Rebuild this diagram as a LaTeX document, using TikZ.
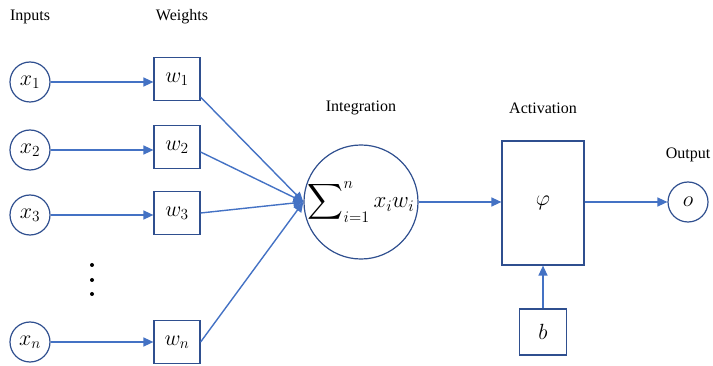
\documentclass[tikz,border=0pt]{standalone}
\usepackage{fix-cm}
\usepackage{amsmath}
\usepackage{fontspec}
\setmainfont{Liberation Serif}
\usetikzlibrary{arrows.meta}
\begin{document}
\begin{tikzpicture}[x=1pt,y=-1pt,
  lbl/.style={font=\fontsize{16}{18}\selectfont},
  inp/.style={draw=edgeblue,line width=1.2pt,circle,minimum size=40pt,inner sep=0pt,font=\fontsize{22}{24}\selectfont},
  wbox/.style={draw=edgeblue,line width=1.2pt,rectangle,minimum width=46pt,minimum height=43pt,inner sep=0pt,font=\fontsize{22}{24}\selectfont},
  conn/.style={draw=lineblue,line width=1.4pt,-{Triangle[length=10pt,width=9pt]}}]
\definecolor{edgeblue}{HTML}{2F4F8F}
\definecolor{lineblue}{HTML}{4472C4}
\useasboundingbox (0,0) rectangle (713,366);
% labels
\node[lbl] (lin) at (30,17) {Inputs};
\node[lbl] (lw) at (182,17) {Weights};
\node[lbl] (lint) at (361,108) {Integration};
\node[lbl] (lact) at (543,108) {Activation};
\node[lbl] (lout) at (688,155) {Output};
% inputs
\node[inp] (x1) at (30,82) {$x_1$};
\node[inp] (x2) at (30,150) {$x_2$};
\node[inp] (x3) at (30,215) {$x_3$};
\node[inp] (xn) at (30,342) {$x_n$};
% weights
\node[wbox] (w1) at (177,79) {$w_1$};
\node[wbox] (w2) at (177,147) {$w_2$};
\node[wbox] (w3) at (177,213) {$w_3$};
\node[wbox] (wn) at (177,342) {$w_n$};
% dots
\fill (92,265) circle (2pt);
\fill (92,280) circle (2pt);
\fill (92,294) circle (2pt);
% integration
\node[draw=edgeblue,line width=1.2pt,circle,minimum size=113pt,inner sep=0pt,font=\fontsize{23}{26}\selectfont] (sum) at (361,202) {$\displaystyle\sum\nolimits_{i=1}^{n} x_i w_i$};
% activation
\node[draw=edgeblue,line width=1.2pt,rectangle,minimum width=82pt,minimum height=124pt,inner sep=0pt,font=\fontsize{22}{24}\selectfont] (act) at (543,203) {$\varphi$};
\node[wbox,minimum width=47pt,minimum height=46pt] (b) at (543,332) {$b$};
% output
\node[inp] (o) at (688,202) {$o$};
% connectors
\draw[conn] (x1) -- (w1.west |- x1);
\draw[conn] (x2) -- (w2.west |- x2);
\draw[conn] (x3) -- (w3.west |- x3);
\draw[conn] (xn) -- (wn.west |- xn);
\coordinate (sin) at (sum.west);
\draw[conn] (w1.south east) ++(0,-4) coordinate (s1) -- (sin);
\draw[conn] (w2.east) ++(0,5) coordinate (s2) -- (sin);
\draw[conn] (w3.east) -- (sin);
\draw[conn] (wn.east) -- (sin);
\draw[conn] (sum.east) -- (act.west |- sum.east);
\draw[conn] (act.east |- o.west) -- (o.west);
\draw[conn] (b.north) -- (act.south);
\end{tikzpicture}
\end{document}
